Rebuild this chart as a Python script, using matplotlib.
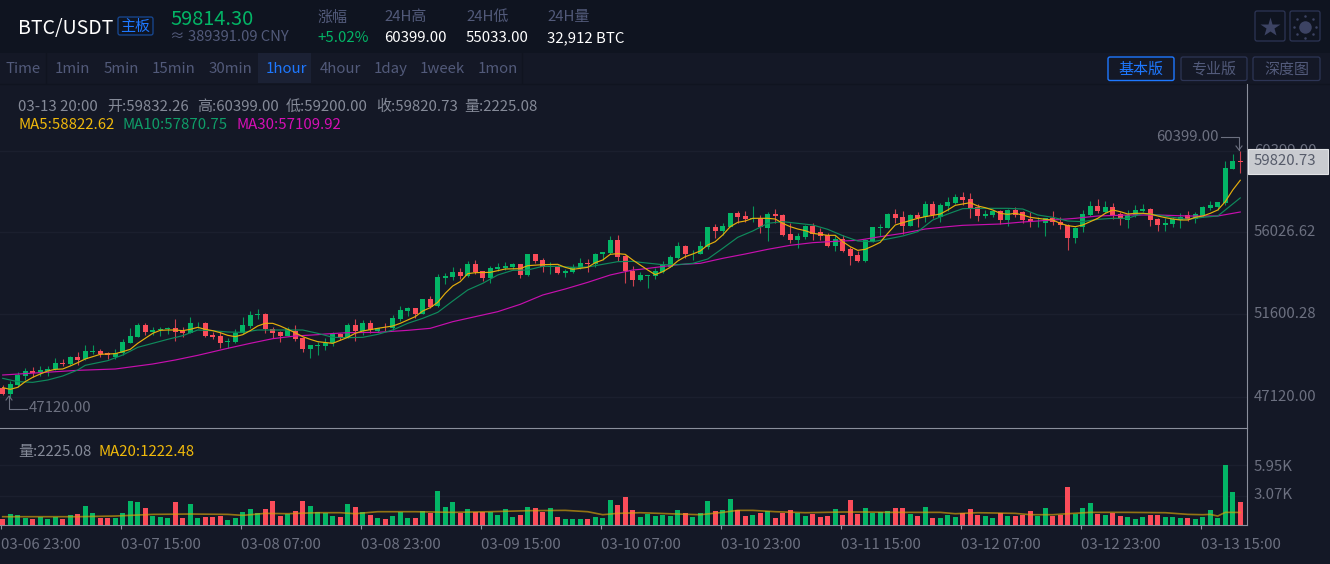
import numpy as np
import matplotlib
matplotlib.use("Agg")
import matplotlib.pyplot as plt
from matplotlib.patches import Rectangle, FancyBboxPatch
from matplotlib.transforms import ScaledTranslation

plt.rcParams['font.family'] = ['Noto Sans CJK SC', 'DejaVu Sans']

opens = [47624,47264,47750,48254,48524,48398,48506,48614,48956,48902,49280,49154,49550,49604,49478,49298,49478,50054,50378,51026,
50648,50738,50774,50846,50702,50594,51098,51116,50450,50414,50072,50108,50558,50972,51530,51602,50774,50648,50432,50702,
50288,49712,49892,49892,50018,50522,50324,51008,50684,51116,50684,50864,50828,51332,51764,51908,51620,52412,52034,53564,
53600,53870,53672,54284,53906,53528,54014,54068,54140,54284,53708,54842,54518,54140,54158,53834,53870,54068,54356,54302,
54824,54896,55598,54734,53942,53438,53672,53654,53870,54158,54608,55274,54878,54842,55238,56300,56066,56300,57056,56894,
56732,56768,56246,57002,56948,55922,55598,55760,56354,56030,55886,55292,55652,55112,54788,54464,55508,56264,56264,57002,
56840,56372,56948,56858,57542,56858,57434,57578,57920,57794,57362,56912,56966,57164,56678,57218,57092,56732,56552,56534,
56768,56588,56408,55724,56300,56948,57434,57128,57362,57002,56678,56948,57182,57254,56732,56426,56462,56678,56948,56750,
56894,57344,57398,57614,59432,59832.26]
highs = [47768,48002,48452,48668,48722,48794,48794,49208,49172,49334,49550,49928,49928,49694,49568,49694,50234,50864,51134,51098,
50918,50882,50918,51332,50882,51422,51170,51152,50648,50648,50288,50774,51458,51782,51854,51638,50882,50666,50882,50990,
50378,49928,50108,50288,50612,50558,51098,51332,51278,51278,50864,51098,51548,52034,51980,51944,52412,52574,53744,53816,
54140,54068,54464,54500,53924,54176,54374,54392,54374,54302,54860,54860,54608,54392,54248,54014,54284,54626,54572,54896,
54968,55814,55868,54788,54176,53852,53708,54104,54464,54788,55490,55310,55058,55544,56318,56462,56516,57056,57146,57146,
57434,56948,57110,57272,57002,56498,55994,56426,56516,56264,55958,55850,55868,55238,55004,55652,56318,56444,57038,57272,
57164,57002,57110,57704,57704,57578,57902,58064,58208,58118,57542,57218,57218,57218,57254,57362,57164,57128,56858,56804,
57164,56822,56444,56318,57218,57722,57794,57704,57578,57128,57218,57488,57524,57308,56768,56768,56822,57038,57164,57110,
57434,57704,57650,59846,60242,60399.00]
lows = [47228,47120,47678,48038,48218,48254,48254,48578,48776,48866,48848,49118,49442,49298,49172,49154,49388,50018,50342,50468,
50468,50432,50522,50162,50378,50558,50828,50378,50252,49784,49784,50018,50522,50864,51314,50558,50288,50108,50414,50162,
49532,49244,49388,49658,49892,50198,50288,50162,50468,50558,50648,50684,50738,51242,51512,51404,51584,51908,51998,53222,
53456,53492,53618,53744,53402,53294,53924,53978,54014,53528,53672,54356,53888,53762,53762,53582,53834,54032,53888,54158,
54518,54860,54446,53294,53114,53384,53024,53510,53834,54122,54572,54608,54518,54824,55112,55688,55868,56282,56534,56588,
56588,55994,55562,56534,55814,55454,55184,55652,55598,55598,55238,55004,54968,54266,54410,54428,55472,55814,56228,56498,
55922,56354,56318,56552,56786,56588,57182,57542,57488,56804,56642,56768,56822,56480,56354,56858,56534,56318,56318,55814,
56408,56192,55058,55418,56048,56894,57038,57038,56732,56408,56264,56822,57128,56354,56102,56102,56318,56264,56624,56534,
56858,57218,57218,57470,59414,59200.00]
closes = [47264,47804,48290,48524,48398,48578,48632,48956,48902,49280,49118,49604,49586,49442,49406,49478,50108,50414,51008,50648,
50738,50810,50864,50648,50558,51116,51134,50432,50378,50054,50162,50594,51008,51548,51602,50774,50558,50414,50774,50252,
49712,49928,49928,50054,50522,50288,51008,50702,51116,50720,50828,50828,51386,51818,51908,51584,52412,51998,53600,53654,
53870,53672,54284,53852,53546,54086,54140,54194,54302,53708,54842,54464,54158,54212,53816,53924,54158,54356,54284,54842,
54932,55598,54680,53924,53456,53708,53708,53924,54284,54680,55274,54842,54914,55274,56300,56084,56354,57056,56840,56732,
56768,56318,57002,56894,55868,55598,55814,56354,55922,55832,55292,55652,55004,54734,54464,55598,56300,56300,57002,56786,
56354,56948,56786,57542,56948,57488,57650,57920,57758,57344,56894,57002,57164,56678,57218,56948,56678,56552,56588,56768,
56552,56408,55724,56264,57002,57434,57164,57362,56948,56714,56948,57218,57254,56678,56408,56498,56714,56822,56714,57002,
57380,57488,57650,59486,59864,59820.73]
volumes = [532,1030,931,665,532,798,565,798,532,931,1030,1828,1130,665,665,665,1130,2327,2227,1629,
831,731,665,2227,665,2028,665,731,731,831,432,665,1230,1529,1130,1529,2327,831,1064,1363,
2327,1828,1230,1130,831,731,2028,1728,1230,931,632,532,831,1230,632,665,1330,1163,3390,1728,
2227,1130,1529,1296,1263,1296,931,1529,731,931,1728,1629,1230,1629,731,532,532,532,532,731,
632,2426,1928,2726,1429,731,1030,831,931,897,1429,1130,731,1130,2327,1330,1429,2526,1429,831,
931,1130,1330,632,1130,1429,1130,831,1030,731,831,1529,931,2426,1030,1629,1130,1230,1330,1629,
1629,1030,831,1728,632,632,931,731,1130,1529,931,831,632,1130,831,831,964,1330,831,1629,
831,964,3789,1030,1629,2127,1030,931,1130,831,731,532,731,931,931,731,731,632,632,532,
731,1429,632,5950,3291,2225.08]

ma5_at = [0,1,2,3,4,5,6,7,8,9,10,11,12,13,14,15,16,17,18,19,20,21,22,23,24,25,26,27,28,29,30,31,32,33,34,35,36,37,38,39,40,41,42,
44,46,47,48,50,52,53,55,56,57,58,59,60,61,62,63,65,67,69,70,72,74,75,76,78,79,80,81,82,83,84,85,
86,87,88,89,90,91,92,93,94,95,96,97,98,99,100,102,103,104,105,106,107,108,109,110,111,112,113,114,115,116,117,118,119,120,122,123,125,126,127,
128,129,130,131,132,133,134,135,136,137,138,139,140,141,142,143,144,145,146,147,148,149,150,151,152,153,154,155,156,157,158,159,160,161,162,163,164,165]
ma5 = [47624,47534,47642,47948,48182,48362,48524,48614,48632,48794,48974,49172,49298,49424,49442,49460,49568,49694,50018,50288,50558,50720,50738,50738,50702,50774,50882,50774,50702,50594,50450,50378,50486,50702,50954,51098,51098,50954,50774,50594,50378,50234,50108,
50018,50342,50558,50684,50828,50954,51098,51458,51764,51944,52232,52718,53114,53348,53780,53834,53852,54032,54050,54212,54266,54284,54122,54014,54122,54374,54518,54824,54860,54824,54518,54248,
53978,53726,53888,54122,54464,54698,54842,55004,55328,55508,55868,56318,56552,56624,56768,56768,56732,56498,56318,56192,56102,55958,55904,55850,55850,55508,55238,55040,55094,55274,55472,55958,56408,56534,56768,56858,57002,57218,57470,
57542,57614,57434,57344,57218,57038,56984,57038,56948,56822,56768,56714,56678,56498,56372,56318,56408,56588,56768,57038,57218,57128,57002,57038,57038,57002,56894,56804,56732,56678,56678,56822,56894,57038,57218,57668,58298,58822.62]

ma10_at = [0,2,4,6,8,10,11,14,16,18,20,22,24,26,28,30,32,34,36,38,40,42,44,46,48,50,52,54,56,58,60,62,64,66,68,70,72,74,76,78,80,82,84,85,88,90,92,94,96,98,100,102,104,106,108,110,112,114,116,118,120,122,124,126,128,130,132,134,136,138,140,142,144,146,148,150,152,154,156,158,160,162,163,165]
ma10 = [48128,47948,47912,48038,48254,48578,48830,49082,49388,49802,50018,50234,50432,50738,50702,50630,50612,50738,50738,50738,50738,50558,50342,50324,50342,50504,50738,51098,51368,51692,52304,52898,53258,53708,53960,53978,54176,54176,54122,54140,54284,54428,54446,54392,54266,54266,54338,54572,55148,55742,56084,56498,56588,56498,56408,56174,55832,55544,55508,55652,55814,56048,56678,57002,57290,57308,57308,57308,57272,56948,56822,56624,56588,56714,56768,56768,57038,56948,56822,56714,56822,56894,57218,57870.75]

ma30_at = [0,5,10,15,20,23,26,30,33,36,39,42,43,46,50,54,57,60,63,66,69,72,75,78,81,84,85,90,93,96,99,102,105,108,111,114,117,120,123,126,128,133,136,140,143,146,150,154,158,162,165]
ma30 = [48308,48434,48560,48632,48902,49118,49370,49748,50018,50270,50414,50486,50522,50594,50612,50720,50828,51188,51458,51728,52124,52628,52952,53312,53708,53978,54014,54266,54338,54608,54842,55094,55310,55454,55526,55580,55778,55958,56192,56318,56390,56462,56570,56678,56768,56894,56948,56948,56894,56894,57109.92]

ma20_at = [0,5,10,15,18,20,25,30,32,35,38,42,45,47,50,55,60,65,70,75,78,80,82,85,90,93,96,98,100,103,107,112,115,118,122,125,127,130,135,137,140,142,145,150,155,158,160,161,162,163,165]
ma20 = [798,798,798,864,964,1030,1064,1030,931,1130,1097,1197,1197,1097,1296,1296,1230,1296,1396,1429,1296,997,1130,1197,1064,997,1230,1429,1429,1296,1197,1263,1263,1230,1230,1230,1097,1197,1130,997,997,1097,1230,1230,1197,1030,997,1030,864,1230,1222.48]

price_ticks = [60399.00, 56026.62, 51600.28, 47120.00]
price_tick_labels = ['60399.00', '56026.62', '51600.28', '47120.00']
vol_ticks = [5950, 3070]
vol_tick_labels = ['5.95K', '3.07K']
vol_grid = [5950, 2892]
time_ticks = [0, 16, 32, 48, 64, 80, 96, 112, 128, 144, 160]
time_labels = ['03-06 23:00', '03-07 15:00', '03-08 07:00', '03-08 23:00', '03-09 15:00', '03-10 07:00',
               '03-10 23:00', '03-11 15:00', '03-12 07:00', '03-12 23:00', '03-13 15:00']
periods = ['Time', '1min', '5min', '15min', '30min', '1hour', '4hour', '1day', '1week', '1mon']
period_x = [5, 55, 104, 152, 209, 266, 320, 374, 420, 478]

BG = '#141826'
HEAD = '#0f1420'
GRID = '#1b1f2e'
AXIS = '#8b8f9c'
DIM = '#6c7080'
HEADDIM = '#525a7a'
GREEN = '#03b566'
RED = '#fb4c5a'
GOLD = '#f0b90b'
BLUE = '#1e78ff'

W, H = 1330, 564
fig = plt.figure(figsize=(W / 100, H / 100), dpi=100, facecolor=BG)

def rect(top, bottom, left=0, right=W):
    return [left / W, 1 - bottom / H, (right - left) / W, (bottom - top) / H]

base = fig.add_axes([0, 0, 1, 1], zorder=0)
base.set_xlim(0, W); base.set_ylim(H, 0); base.axis('off')
base.add_patch(Rectangle((0, 0), W, 53, fc=HEAD, ec='none'))
base.add_patch(Rectangle((258, 53), 53, 30, fc='#1b2134', ec='none'))
base.plot([0, W], [83.5, 83.5], color='#101420', lw=1)
for xs in [46, 522]:
    base.plot([xs, xs], [53, 83], color='#101420', lw=1)

ax = fig.add_axes(rect(84, 428, 0, 1247), zorder=1)
av = fig.add_axes(rect(428, 524.7, 0, 1247), zorder=1, sharex=ax)
for a in (ax, av):
    a.patch.set_alpha(0)
    for s in ('top', 'left'):
        a.spines[s].set_visible(False)
    for s in ('bottom', 'right'):
        a.spines[s].set_color(AXIS)
        a.spines[s].set_linewidth(0.8)

x = np.arange(len(closes))
o, hi, lo, c, v = map(np.array, (opens, highs, lows, closes, volumes))
up = c >= o
cols = np.where(up, GREEN, RED)

ax.set_xlim(-0.36, 165.9)
ax.set_ylim(47120 - 31 * 54, 47120 + 313 * 54)
ax.set_yticks(price_ticks, price_tick_labels)
ax.yaxis.tick_right()
ax.tick_params(axis='y', length=0, pad=5, labelsize=10.8, labelcolor=DIM)
ax.tick_params(axis='x', length=0, labelbottom=False)
off = ScaledTranslation(0, 1.2 / 72, fig.dpi_scale_trans)
for lab in ax.get_yticklabels():
    lab.set_transform(lab.get_transform() + off)
for p in price_ticks:
    ax.axhline(p, color=GRID, lw=1, zorder=1)

ax.vlines(x, lo, hi, colors=cols, lw=0.8, alpha=0.8, zorder=2)
body = np.maximum(np.abs(c - o), 30)
ax.bar(x, body, bottom=np.minimum(o, c), width=0.67, color=cols, zorder=3, linewidth=0)
ax.plot(ma30_at, ma30, color='#c70fae', lw=0.85, zorder=4)
ax.plot(ma10_at, ma10, color='#0f8a5c', lw=0.85, zorder=5)
ax.plot(ma5_at, ma5, color='#e5ae0c', lw=0.85, zorder=6)

av.set_ylim(0, 96.7 * 99.72)
av.set_yticks(vol_ticks, vol_tick_labels)
av.yaxis.tick_right()
av.tick_params(axis='y', length=0, pad=5, labelsize=10.8, labelcolor=DIM)
for g in vol_grid:
    av.axhline(g, color=GRID, lw=1, zorder=1)
av.bar(x, v, width=0.67, color=cols, zorder=3, linewidth=0)
av.plot(ma20_at, ma20, color='#d9a50a', lw=1.2, alpha=0.65, zorder=4)
av.set_xticks(np.array(time_ticks) - 0.27, time_labels)
av.tick_params(axis='x', length=3, width=0.8, color=AXIS, labelcolor=DIM, labelsize=10.8, pad=6.5)
for lab in av.get_xticklabels():
    lab.set_ha('left')

top = fig.add_axes([0, 0, 1, 1], zorder=5)
top.set_xlim(0, W); top.set_ylim(H, 0); top.axis('off')

def T(px, py, s, color=DIM, size=15, **kw):
    kw.setdefault('ha', 'left')
    top.text(px, py + 0.36 * size, s, color=color, fontsize=size * 0.72, va='baseline', **kw)

def box(l, t, r, b, ec, fc='none', lw=0.9, rad=2):
    top.add_patch(FancyBboxPatch((l + rad, t + rad), r - l - 2 * rad, b - t - 2 * rad,
                                 boxstyle=f'round,pad={rad},rounding_size={rad}',
                                 ec=ec, fc=fc, lw=lw))

# header
T(17.5, 27, 'BTC/USDT', color='white', size=19.5, fontweight='medium')
box(118, 17, 153, 35, '#174a96')
T(135.5, 26, '主板', color=BLUE, size=15, ha='center')
T(170, 18, '59814.30', color=GREEN, size=20, fontweight='medium')
T(170, 36, '≈ 389391.09 CNY', color=HEADDIM, size=14.7)
for hx, hl, val, col in [(317, '涨幅', '+5.02%', GREEN), (384, '24H高', '60399.00', 'white'),
                         (466, '24H低', '55033.00', 'white'), (547, '24H量', '32,912 BTC', 'white')]:
    T(hx, 16, hl, color=HEADDIM, size=15)
    T(hx, 37, val, color=col, size=15)

# period bar
for px, lab in zip(period_x, periods):
    T(px, 68, lab, color=BLUE if lab == '1hour' else HEADDIM, size=15)

# buttons
box(1108, 57, 1174, 80.5, BLUE, lw=1)
T(1141, 68.5, '基本版', color=BLUE, size=15, ha='center')
box(1181, 57, 1247, 80.5, '#2d3555')
T(1214, 68.5, '专业版', color=HEADDIM, size=15, ha='center')
box(1253, 57, 1320, 80.5, '#2d3555')
T(1286.5, 68.5, '深度图', color=HEADDIM, size=15, ha='center')
box(1255, 11, 1285, 41, '#2d3555')
box(1290, 11, 1320, 41, '#2d3555')
top.plot([1270], [26.5], marker='*', ms=15, color='#3c4363', mec='none')
top.plot([1305], [26.5], marker='o', ms=9, color='#3c4363', mec='none')
for ang in np.arange(0, 360, 45):
    top.plot([1305 + 11 * np.cos(np.radians(ang))], [26.5 + 11 * np.sin(np.radians(ang))],
             marker='o', ms=1.8, color='#3c4363', mec='none')

# info lines
INFO = '#858a98'
T(18, 106, '03-13 20:00', color=INFO)
for px, s in [(107, '开:59832.26'), (197, '高:60399.00'), (286, '低:59200.00'), (376, '收:59820.73'), (464, '量:2225.08')]:
    T(px, 106, s, color=INFO)
T(18, 124, 'MA5:58822.62', color=GOLD)
T(123, 124, 'MA10:57870.75', color='#0f9d68')
T(237, 124, 'MA30:57109.92', color='#d60fb5')
T(18, 451, '量:2225.08', color=INFO)
T(98, 451, 'MA20:1222.48', color=GOLD, fontweight='medium')

# last price tag
top.add_patch(Rectangle((1248, 149), 80, 25, fc='#c9cbd0', ec='#e2e3e6', lw=0.8))
T(1254, 160, '59820.73', color='#565b6a', size=15)

# extreme markers
T(1219, 136, '60399.00', color=DIM, ha='right')
top.plot([1221, 1239, 1239], [137, 137, 150], color=DIM, lw=0.8)
top.plot([1236, 1239, 1242], [146, 150, 146], color=DIM, lw=0.8)
T(29, 407, '47120.00', color=DIM)
top.plot([9, 9, 27], [396, 408.5, 408.5], color=DIM, lw=0.8)
top.plot([6, 9, 12], [400, 396, 400], color=DIM, lw=0.8)

fig.savefig('out.png', dpi=100, facecolor=fig.get_facecolor())
